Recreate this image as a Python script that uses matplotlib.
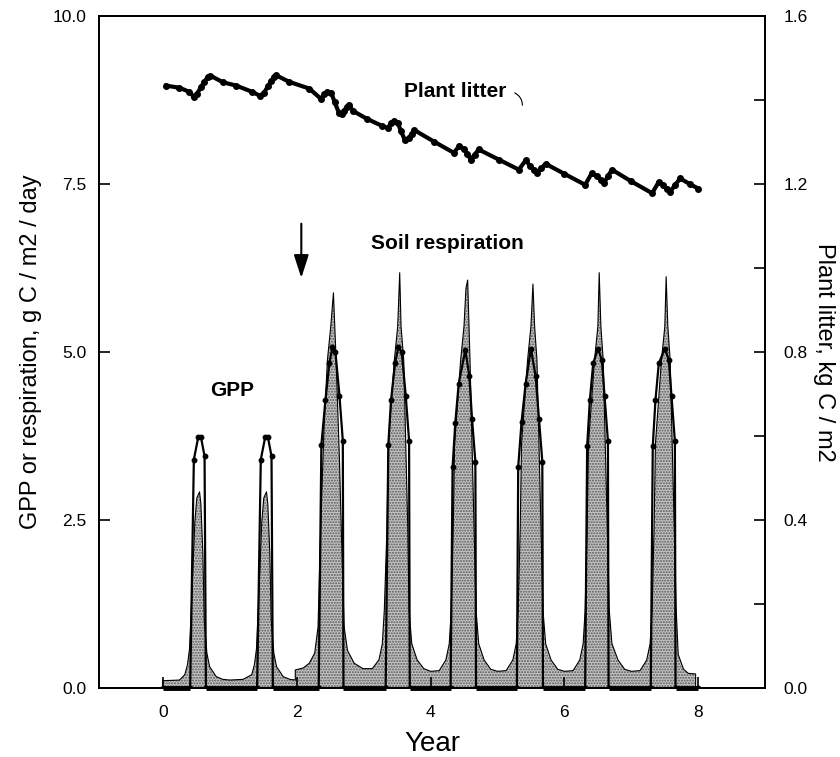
import numpy as np
import matplotlib
matplotlib.use('Agg')
import matplotlib.pyplot as plt

plt.rcParams['font.family'] = ['Liberation Sans', 'DejaVu Sans']

# soil respiration, g C / m2 / day
resp_t = [0.00, 0.00, 0.25, 0.33, 0.37, 0.40, 0.44, 0.48, 0.51, 0.55, 0.57, 0.60, 0.62, 0.66, 0.70, 0.80, 0.90, 1.00,
          1.20, 1.33, 1.37, 1.40, 1.44, 1.48, 1.51, 1.55, 1.57, 1.60, 1.62, 1.66, 1.70, 1.80, 1.90, 1.98, 1.98,
          2.10, 2.19, 2.27, 2.32, 2.36, 2.41, 2.46, 2.51, 2.55, 2.59, 2.64, 2.68, 2.71, 2.76, 2.86, 2.99,
          3.13, 3.23, 3.28, 3.31, 3.35, 3.37, 3.46, 3.51, 3.54, 3.56, 3.60, 3.63, 3.66, 3.68, 3.72, 3.80, 3.90, 4.00,
          4.13, 4.23, 4.28, 4.31, 4.34, 4.36, 4.45, 4.50, 4.53, 4.555, 4.59, 4.62, 4.65, 4.68, 4.72, 4.80, 4.90, 5.00,
          5.13, 5.23, 5.28, 5.31, 5.34, 5.36, 5.45, 5.50, 5.53, 5.555, 5.59, 5.62, 5.65, 5.68, 5.72, 5.80, 5.90, 6.00,
          6.13, 6.23, 6.28, 6.31, 6.34, 6.36, 6.45, 6.50, 6.52, 6.545, 6.58, 6.61, 6.64, 6.67, 6.71, 6.80, 6.90, 7.00,
          7.13, 7.23, 7.28, 7.31, 7.34, 7.36, 7.45, 7.50, 7.52, 7.545, 7.58, 7.61, 7.64, 7.67, 7.70, 7.78, 7.85, 7.96, 7.96]
resp = [0.00, 0.11, 0.12, 0.20, 0.35, 0.58, 1.48, 2.48, 2.83, 2.92, 2.74, 2.00, 1.01, 0.52, 0.32, 0.17, 0.13, 0.12,
        0.13, 0.20, 0.35, 0.58, 1.48, 2.48, 2.83, 2.92, 2.74, 2.00, 1.01, 0.52, 0.32, 0.17, 0.13, 0.12, 0.27,
        0.30, 0.37, 0.52, 0.91, 2.40, 3.89, 4.88, 5.38, 5.88, 4.88, 3.39, 1.90, 0.91, 0.56, 0.37, 0.29,
        0.29, 0.42, 0.66, 1.16, 2.40, 3.64, 4.88, 5.38, 6.18, 5.38, 4.88, 3.64, 2.40, 1.16, 0.66, 0.42, 0.29, 0.25,
        0.26, 0.42, 0.66, 1.16, 2.40, 3.64, 4.88, 5.38, 5.95, 6.07, 4.88, 3.64, 2.40, 1.16, 0.66, 0.42, 0.28, 0.25,
        0.26, 0.42, 0.66, 1.16, 2.40, 3.64, 4.88, 5.38, 6.01, 5.38, 4.88, 3.64, 2.40, 1.16, 0.66, 0.42, 0.28, 0.25,
        0.26, 0.42, 0.66, 1.16, 2.40, 3.64, 4.88, 5.38, 6.18, 5.38, 4.88, 3.64, 2.40, 1.16, 0.66, 0.42, 0.28, 0.25,
        0.26, 0.42, 0.66, 1.16, 2.40, 3.64, 4.88, 5.38, 6.12, 5.38, 4.88, 3.64, 2.40, 1.16, 0.50, 0.28, 0.22, 0.21, 0.00]

# GPP, g C / m2 / day
gpp_t = [0.00, 0.41, 0.465, 0.53, 0.57, 0.625, 0.645,
         1.41, 1.465, 1.53, 1.57, 1.625, 1.645,
         2.33, 2.37, 2.43, 2.49, 2.535, 2.58, 2.64, 2.69, 2.70,
         3.33, 3.37, 3.41, 3.47, 3.52, 3.57, 3.63, 3.68, 3.69,
         4.30, 4.33, 4.37, 4.42, 4.52, 4.58, 4.62, 4.67, 4.68,
         5.29, 5.31, 5.36, 5.42, 5.50, 5.57, 5.62, 5.67, 5.68,
         6.31, 6.34, 6.38, 6.43, 6.50, 6.56, 6.60, 6.65, 6.66,
         7.29, 7.32, 7.36, 7.41, 7.50, 7.56, 7.60, 7.65, 7.66, 8.00]
gpp = [0, 0, 3.40, 3.73, 3.74, 3.45, 0,
       0, 3.40, 3.73, 3.74, 3.45, 0,
       0, 3.62, 4.28, 4.84, 5.07, 5.00, 4.35, 3.68, 0,
       0, 3.62, 4.28, 4.83, 5.07, 5.00, 4.35, 3.68, 0,
       0, 3.29, 3.94, 4.52, 5.03, 4.64, 4.01, 3.37, 0,
       0, 3.29, 3.96, 4.52, 5.05, 4.64, 4.01, 3.37, 0,
       0, 3.60, 4.28, 4.83, 5.05, 4.88, 4.34, 3.68, 0,
       0, 3.60, 4.28, 4.83, 5.05, 4.88, 4.34, 3.68, 0, 0]

# plant litter, kg C / m2 (right axis)
litter_t = [0.05, 0.25, 0.40, 0.46, 0.51, 0.57, 0.62, 0.67, 0.71, 0.90, 1.10, 1.34, 1.45, 1.51, 1.57, 1.62, 1.66, 1.69,
            1.89, 2.19, 2.36, 2.41, 2.46, 2.52, 2.57, 2.63, 2.68, 2.71, 2.75, 2.78, 2.84, 3.05, 3.28, 3.36, 3.41, 3.46,
            3.51, 3.56, 3.62, 3.68, 3.72, 3.76, 4.05, 4.35, 4.43, 4.50, 4.55, 4.60, 4.66, 4.72, 5.02, 5.32, 5.42, 5.49,
            5.54, 5.59, 5.65, 5.72, 6.00, 6.31, 6.41, 6.49, 6.54, 6.59, 6.65, 6.71, 7.00, 7.31, 7.41, 7.48, 7.53, 7.58,
            7.65, 7.73, 7.87, 8.00]
litter = [1.434, 1.429, 1.419, 1.408, 1.414, 1.430, 1.443, 1.454, 1.458, 1.442, 1.434, 1.419, 1.410, 1.416, 1.432,
          1.445, 1.454, 1.459, 1.443, 1.427, 1.403, 1.413, 1.419, 1.416, 1.394, 1.370, 1.366, 1.374, 1.384, 1.389,
          1.374, 1.355, 1.338, 1.333, 1.344, 1.349, 1.346, 1.325, 1.304, 1.310, 1.320, 1.328, 1.301, 1.274, 1.291,
          1.283, 1.272, 1.258, 1.270, 1.282, 1.258, 1.234, 1.256, 1.243, 1.234, 1.226, 1.237, 1.248, 1.224, 1.198,
          1.226, 1.218, 1.210, 1.202, 1.218, 1.234, 1.206, 1.178, 1.205, 1.197, 1.189, 1.181, 1.197, 1.213, 1.200,
          1.189]

resp_t = np.array(resp_t)
resp = np.array(resp)
gpp_t = np.array(gpp_t)
gpp = np.array(gpp, dtype=float)

fig = plt.figure(figsize=(8.4, 7.57), dpi=100)
ax = fig.add_axes([0.118, 0.091, 0.793, 0.888])

ax.fill_between(resp_t, 0, resp, facecolor='#c6c6c6', edgecolor='#555555', linewidth=0, hatch='......', zorder=1)
ax.plot(resp_t, resp, color='black', lw=0.8, zorder=2)

ax.plot(gpp_t, gpp, color='black', lw=1.6, marker='o', ms=3.2, zorder=3)
# thick dotted run of GPP along zero outside the growing season
gpp_zero = np.where(gpp == 0, 0.0, np.nan)
ax.plot(gpp_t, gpp_zero, color='black', lw=3.5, solid_capstyle='butt', zorder=4, clip_on=False)

ax.set_xlim(-0.95, 9.0)
ax.set_ylim(0, 10)
ax.set_xticks([0, 2, 4, 6, 8])
ax.set_yticks([0, 2.5, 5, 7.5, 10])
ax.set_yticklabels(['0.0', '2.5', '5.0', '7.5', '10.0'])
ax.tick_params(direction='in', length=8, width=1.2, labelsize=12.5)
ax.tick_params(axis='y', pad=9)
ax.tick_params(axis='x', pad=12)
for s in ax.spines.values():
    s.set_linewidth(1.4)

ax.set_xlabel('Year', fontsize=20, labelpad=8)
ax.set_ylabel('GPP or respiration, g C / m2 / day', fontsize=17, labelpad=8)

ax2 = ax.twinx()
ax2.plot(litter_t, litter, color='black', lw=3, marker='o', ms=4, zorder=3)
ax2.set_ylim(0, 1.6)
ax2.set_yticks(np.arange(0, 1.61, 0.2))
ax2.set_yticklabels(['0.0', '', '0.4', '', '0.8', '', '1.2', '', '1.6'])
ax2.tick_params(direction='in', length=8, width=1.2, labelsize=12.5, pad=13)
ax2.set_ylabel('Plant litter, kg C / m2', fontsize=17, rotation=-90, labelpad=20)
for s in ax2.spines.values():
    s.set_linewidth(1.4)

ax.text(4.37, 8.87, 'Plant litter', fontsize=15, fontweight='bold', ha='center', va='center')
ax.annotate('', xy=(5.37, 8.63), xytext=(5.22, 8.87),
            arrowprops=dict(arrowstyle='-', connectionstyle='arc3,rad=-0.4', lw=0.8))
ax.text(4.25, 6.62, 'Soil respiration', fontsize=15, fontweight='bold', ha='center', va='center')
ax.text(1.04, 4.42, 'GPP', fontsize=15, fontweight='bold', ha='center', va='center')
ax.annotate('', xy=(2.07, 6.06), xytext=(2.07, 6.95),
            arrowprops=dict(arrowstyle='-|>,head_length=1.4,head_width=0.45', color='black', lw=1.5))

fig.savefig('out.png', dpi=100)
